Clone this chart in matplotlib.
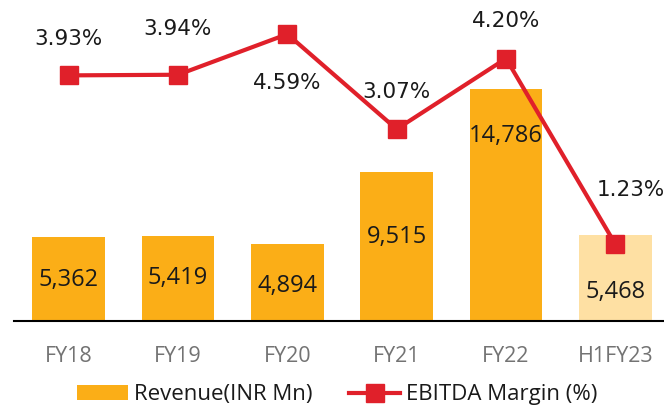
import matplotlib.pyplot as plt
import numpy as np
from matplotlib.patches import Patch
from matplotlib.lines import Line2D

plt.rcParams['font.family'] = ['Open Sans', 'DejaVu Sans']

periods = ['FY18', 'FY19', 'FY20', 'FY21', 'FY22', 'H1FY23']
revenue = [5362, 5419, 4894, 9515, 14786, 5468]
ebitda_margin = [3.93, 3.94, 4.59, 3.07, 4.20, 1.23]
revenue_labels = ['5,362', '5,419', '4,894', '9,515', '14,786', '5,468']
margin_labels = ['3.93%', '3.94%', '4.59%', '3.07%', '4.20%', '1.23%']

orange = '#FBAE17'
light = '#FEE0A3'
red = '#E0202A'

fig = plt.figure(figsize=(6.64, 4.07), dpi=100)
ax = fig.add_axes([14 / 664, 1 - 321 / 407, 656 / 664, 321 / 407])
x = np.arange(len(periods))
colors = [orange] * 5 + [light]
ax.bar(x, revenue, width=0.667, color=colors, zorder=2)
ax.set_xlim(-0.5, 5.5)
ax.set_ylim(0, 20460)

for s in ['top', 'left', 'right']:
    ax.spines[s].set_visible(False)
ax.spines['bottom'].set_linewidth(1.5)
ax.spines['bottom'].set_color('black')
ax.set_yticks([])
ax.set_xticks(x)
ax.set_xticklabels(periods, fontsize=15.5, color='#737373')
ax.tick_params(axis='x', length=0, pad=18)

# revenue labels (offset in points from the bar top)
rev_off = [-31, -30, -30, -47, -34, -41]
for i, (v, lab) in enumerate(zip(revenue, revenue_labels)):
    ax.annotate(lab, (i, v), xytext=(0, rev_off[i]), textcoords='offset points',
                ha='center', va='center', fontsize=17, color='#1a1a1a', zorder=4)

ax2 = ax.twinx()
ax2.set_ylim(0, 5.136)
ax2.axis('off')
ax2.plot(x, ebitda_margin, color=red, lw=3, marker='s', markersize=13.5, zorder=3)

m_off = [(0, 26), (0, 33), (0, -35), (0, 27), (0, 27), (11, 39)]
for i, (v, lab) in enumerate(zip(ebitda_margin, margin_labels)):
    ax2.annotate(lab, (i, v), xytext=m_off[i], textcoords='offset points',
                 ha='center', va='center', fontsize=15.5, color='#1a1a1a',
                 family='DejaVu Sans')

handles = [Patch(facecolor=orange, edgecolor='none'),
           Line2D([], [], color=red, lw=3, marker='s', markersize=13.5)]
fig.legend(handles, ['Revenue(INR Mn)', 'EBITDA Margin (%)'], loc='center',
           bbox_to_anchor=(0.508, 0.030), ncol=2, frameon=False, fontsize=16,
           handlelength=2.3, handleheight=0.7, handletextpad=0.26, columnspacing=1.66,
           labelcolor='#1a1a1a')

fig.savefig('out.png', dpi=100)
